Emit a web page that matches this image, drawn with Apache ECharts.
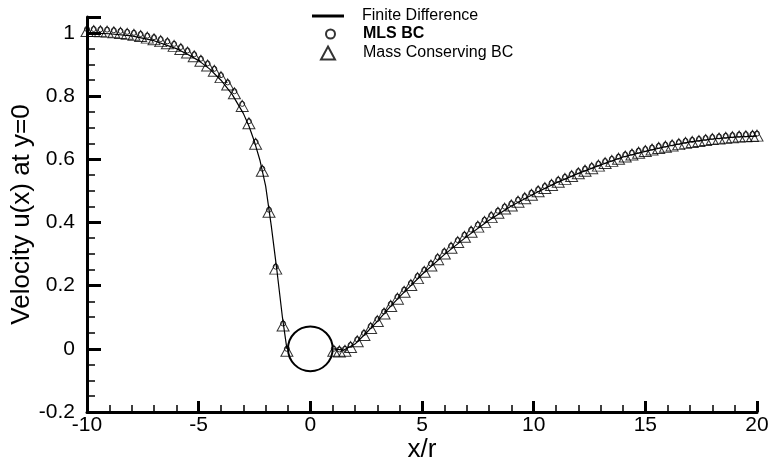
<!DOCTYPE html>
<html>
<head>
<meta charset="utf-8">
<script src="https://cdn.jsdelivr.net/npm/echarts@6/dist/echarts.min.js"></script>
<style>html,body{margin:0;padding:0;background:#fff;}#c{width:772px;height:470px;}</style>
</head>
<body>
<div id="c"></div>
<script>
// Finite Difference (line), left and right of the cylinder
var fdX = [-10, -9, -8, -7, -6, -5.5, -5, -4.5, -4, -3.5, -3, -2.75, -2.5, -2.25, -2, -1.75, -1.5, -1.25, -1.05,
           1.05, 1.5, 2, 2.5, 3, 3.5, 4, 4.5, 5, 6, 7, 8, 9, 10, 11, 12, 13, 14, 15, 16, 17, 18, 19, 20];
var fdY = [1.0, 0.997, 0.99, 0.975, 0.95, 0.932, 0.912, 0.885, 0.85, 0.805, 0.745, 0.705, 0.655, 0.595, 0.515, 0.39, 0.25, 0.1, 0.0,
           0.0, -0.004, 0.015, 0.05, 0.087, 0.127, 0.165, 0.2, 0.235, 0.298, 0.355, 0.407, 0.452, 0.49, 0.525, 0.555, 0.582, 0.607, 0.625, 0.641, 0.655, 0.664, 0.67, 0.673];

// Mass Conserving BC / MLS BC sample points
var bcX = [-10, -9.7, -9.4, -9.1, -8.8, -8.5, -8.2, -7.9, -7.6, -7.3, -7.0, -6.7, -6.4, -6.1, -5.8, -5.5, -5.2, -4.9, -4.6, -4.3,
           -4.0, -3.7, -3.4, -3.05, -2.75, -2.45, -2.15, -1.85, -1.55, -1.22, -1.05,
           1.05, 1.3, 1.55, 1.8, 2.1, 2.4, 2.7, 3.0, 3.3, 3.6, 3.9, 4.2, 4.5, 4.8, 5.1, 5.4, 5.7, 6.0, 6.3, 6.6,
           6.9, 7.2, 7.5, 7.8, 8.1, 8.4, 8.7, 9.0, 9.3, 9.6, 9.9, 10.2, 10.5, 10.8, 11.1, 11.4, 11.7, 12.0, 12.3, 12.6,
           12.9, 13.2, 13.5, 13.8, 14.1, 14.4, 14.7, 15.0, 15.3, 15.6, 15.9, 16.2, 16.5, 16.8, 17.1, 17.4, 17.7, 18.0,
           18.3, 18.6, 18.9, 19.2, 19.5, 19.8, 20.0];
var mcY = [1.012, 1.012, 1.011, 1.01, 1.008, 1.006, 1.003, 1.0, 0.996, 0.991, 0.986, 0.98, 0.973, 0.965, 0.955, 0.944, 0.932, 0.918, 0.903, 0.886,
           0.866, 0.843, 0.815, 0.775, 0.72, 0.655, 0.57, 0.44, 0.26, 0.08, 0.0,
           0.0, -0.002, 0.0, 0.012, 0.03, 0.05, 0.072, 0.094, 0.118, 0.142, 0.165, 0.187, 0.208, 0.23, 0.25, 0.27, 0.29, 0.308, 0.326, 0.344,
           0.361, 0.377, 0.393, 0.408, 0.423, 0.437, 0.45, 0.46, 0.472, 0.483, 0.494, 0.505, 0.515, 0.525, 0.535, 0.544, 0.553, 0.562, 0.57, 0.578,
           0.586, 0.594, 0.601, 0.608, 0.615, 0.621, 0.627, 0.632, 0.637, 0.642, 0.646, 0.65, 0.654, 0.658, 0.661, 0.664, 0.667, 0.67,
           0.672, 0.674, 0.676, 0.678, 0.679, 0.68, 0.681];
var mlsY = mcY;

// cylinder: centre x, centre y, radius (in x/r units)
var cylinder = [[0, 0, 1]];

var xTicks = {min: -10, max: 20, interval: 5};
var yTicks = {min: -0.2, max: 1.05, interval: 0.2};

function zip(xs, ys) { var o = []; for (var i = 0; i < xs.length; i++) o.push([xs[i], ys[i]]); return o; }
var fdData = zip(fdX, fdY);
// gap inside the cylinder
var gapIdx = fdX.indexOf(1.05);
fdData.splice(gapIdx, 0, [0, '-']);

var FONT = 'Liberation Sans, Arial, Helvetica, sans-serif';
var chart = echarts.init(document.getElementById('c'), null, {renderer: 'canvas'});
chart.setOption({
  animation: false,
  backgroundColor: '#fff',
  grid: {left: 87, right: 15, top: 17, bottom: 58, containLabel: false, outerBoundsMode: 'none'},
  legend: [
    {data: [{name: 'Finite Difference', icon: 'rect'}], left: 312, top: 8, itemWidth: 32, itemHeight: 3, padding: 0,
     textStyle: {fontFamily: FONT, fontSize: 16, color: '#000', padding: [0, 0, 0, 13]}},
    {data: ['MLS BC'], left: 325, top: 26, itemWidth: 9, itemHeight: 9, padding: 0,
     textStyle: {fontFamily: FONT, fontSize: 16, color: '#000', fontWeight: 'bold', padding: [0, 0, 0, 23]}},
    {data: ['Mass Conserving BC'], left: 320, top: 45, itemWidth: 14, itemHeight: 13, padding: 0,
     textStyle: {fontFamily: FONT, fontSize: 16, color: '#000', padding: [0, 0, 0, 23]}}
  ],
  xAxis: {
    type: 'value', min: xTicks.min, max: xTicks.max, interval: xTicks.interval,
    name: 'x/r', nameLocation: 'middle', nameGap: 25, nameMoveOverlap: false,
    nameTextStyle: {fontFamily: FONT, fontSize: 26, color: '#000'},
    axisLine: {onZero: false, lineStyle: {color: '#000', width: 3}},
    axisTick: {inside: true, length: 11, lineStyle: {color: '#000', width: 3}},
    minorTick: {show: true, splitNumber: 5, length: 7, lineStyle: {color: '#000', width: 1.5}},
    splitLine: {show: false},
    axisLabel: {fontFamily: FONT, fontSize: 21, color: '#000', margin: 3}
  },
  yAxis: {
    type: 'value', min: yTicks.min, max: yTicks.max, interval: yTicks.interval,
    name: 'Velocity u(x) at y=0', nameLocation: 'middle', nameGap: 52, nameMoveOverlap: false,
    nameTextStyle: {fontFamily: FONT, fontSize: 26, color: '#000'},
    axisLine: {onZero: false, lineStyle: {color: '#000', width: 3}},
    axisTick: {inside: true, length: 14, lineStyle: {color: '#000', width: 3}},
    minorTick: {show: true, splitNumber: 4, length: 8, lineStyle: {color: '#000', width: 1.5}},
    splitLine: {show: false},
    axisLabel: {fontFamily: FONT, fontSize: 21, color: '#000', margin: 12, showMaxLabel: false}
  },
  series: [
    {name: 'Finite Difference', type: 'line', data: fdData, symbol: 'none', connectNulls: false,
     lineStyle: {color: '#000', width: 1.2}, itemStyle: {color: '#000'}, z: 2},
    {name: 'MLS BC', type: 'scatter', data: zip(bcX, mlsY), symbol: 'circle', symbolSize: 5, clip: false,
     itemStyle: {color: 'rgba(255,255,255,0)', borderColor: '#000', borderWidth: 1}, z: 3},
    {name: 'Mass Conserving BC', type: 'scatter', data: zip(bcX, mcY), symbol: 'triangle', symbolSize: [12, 11],
     symbolOffset: [0, 2], clip: false,
     itemStyle: {color: 'rgba(255,255,255,0)', borderColor: '#000', borderWidth: 1}, z: 4},
    {name: 'cylinder', type: 'custom', data: cylinder, clip: false, z: 5,
     renderItem: function (params, api) {
       var c = api.coord([api.value(0), api.value(1)]);
       var r = api.size([api.value(2), 0])[0];
       return {type: 'circle', shape: {cx: c[0], cy: c[1], r: r},
               style: {fill: 'none', stroke: '#000', lineWidth: 2}};
     }}
  ]
});
</script>
</body>
</html>
